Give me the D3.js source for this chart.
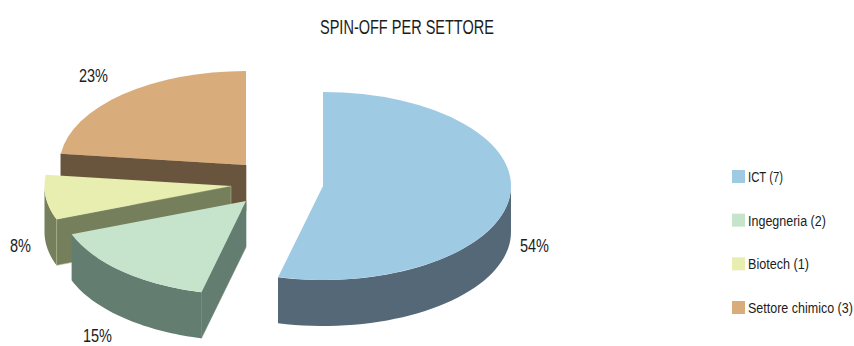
<!DOCTYPE html>
<html><head><meta charset="utf-8">
<script src="https://cdn.jsdelivr.net/npm/d3@7/dist/d3.min.js"></script>
<style>html,body{margin:0;padding:0;background:#fff}svg{display:block}text{font-family:"Liberation Sans",sans-serif;fill:#1c1c1c}</style>
</head><body><svg id="c" width="854" height="346"></svg>
<script>
const title = "SPIN-OFF PER SETTORE";
const categories = ["ICT (7)", "Ingegneria (2)", "Biotech (1)", "Settore chimico (3)"];
const counts = [7, 2, 1, 3];
const pctLabels = ["54%", "15%", "8%", "23%"];
const topColors = ["#9FCAE4", "#C6E4CB", "#E8EEAF", "#D9AC7B"];
const sideColors = ["#556877", "#637E70", "#757F5C", "#69553E"];
// layout
const radiiX = [188,186.5,186.5,186.5], ry = 94, depth = 46;
const centers = [[323,186],[246,201],[231,186],[246,165]];
const labelPos = [[520,252],[83,342],[10,252],[79,82]];
const labelWidths = [29,29,21,29];
const legendWidths = [35,78,61,105];
const svg = d3.select("#c");
const arcs = d3.pie().sort(null).value(d=>d)(counts);
const line = d3.line();
const topArc = d3.arc().innerRadius(0).outerRadius(1);
// squeeze a text horizontally to the condensed width seen in the reference
function fit(sel, x, y, width) {
  const natural = sel.node().getComputedTextLength();
  sel.attr("transform", `translate(${x},${y}) scale(${width/natural},1)`);
}
const drawOrder = [3,2,1,0];
drawOrder.forEach(i=>{
  const d = arcs[i], c = centers[i], g = svg.append("g"), rx = radiiX[i];
  const pt = (a,dy=0)=>[c[0]+rx*Math.sin(a), c[1]-ry*Math.cos(a)+dy];
  const a0 = Math.max(d.startAngle, Math.PI/2), a1 = Math.min(d.endAngle, 3*Math.PI/2);
  const st = d3.range(0,41).map(k=>a0+(a1-a0)*k/40);
  if (a1>a0) {
    const wall = st.map(a=>pt(a)).concat(st.slice().reverse().map(a=>pt(a,depth)));
    g.append("path").attr("d",line(wall)+"Z").attr("fill",sideColors[i]);
  }
  // the cut face turned towards the viewer (ICT's own cut is hidden under its top)
  if (i>0) {
    const a = d.startAngle;
    const f=[c,pt(a),pt(a,depth),[c[0],c[1]+depth]];
    g.append("path").attr("d",line(f)+"Z").attr("fill",sideColors[i])
      .attr("stroke",i===2?"#A9B38C":sideColors[i]).attr("stroke-width",0.6);
  }
  g.append("path").attr("d",topArc(d))
    .attr("transform",`translate(${c[0]},${c[1]}) scale(${rx},${ry})`)
    .attr("fill",topColors[i]);
});
pctLabels.forEach((t,i)=>{
  fit(svg.append("text").attr("font-size",18.5).text(t), labelPos[i][0], labelPos[i][1], labelWidths[i]);
});
fit(svg.append("text").attr("font-size",21).text(title), 320, 34, 174);
const legendY = d3.scalePoint().domain(categories).range([170,301]);
categories.forEach((t,i)=>{
  svg.append("rect").attr("x",732).attr("y",legendY(t)).attr("width",13).attr("height",13).attr("fill",topColors[i]);
  fit(svg.append("text").attr("font-size",15).text(t), 748, legendY(t)+12, legendWidths[i]);
});
</script></body></html>
